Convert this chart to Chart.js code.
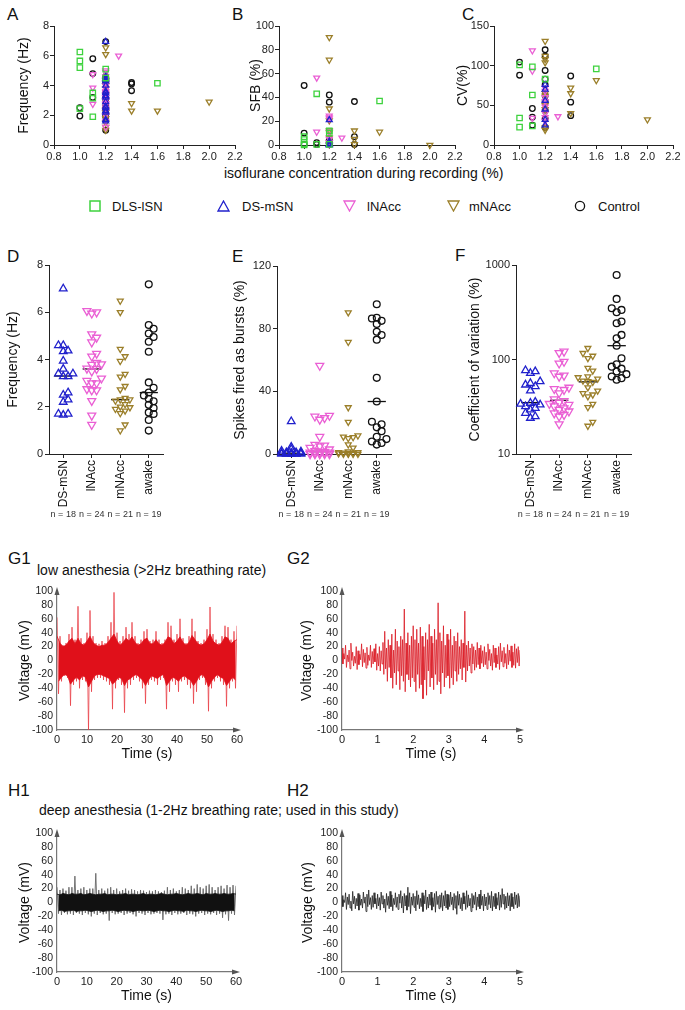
<!DOCTYPE html>
<html>
<head>
<meta charset="utf-8">
<script src="https://cdn.jsdelivr.net/npm/chart.js@4.4.1/dist/chart.umd.min.js"></script>
<style>
  body { margin: 0; background: #fff; font-family: "Liberation Sans", Arial, sans-serif; color: #111; }
  #page { position: relative; width: 685px; height: 1010px; overflow: hidden; }
  .letter { position: absolute; font-size: 17px; line-height: 1; }
  .txt { position: absolute; font-size: 14px; line-height: 1; white-space: nowrap; }
  .leg { position: absolute; font-size: 13px; line-height: 13px; white-space: nowrap; }
  .leg svg { position: absolute; }
  canvas { position: absolute; }
</style>
</head>
<body>
<div id="page">
  <div class="letter" style="left:7px;top:6px">A</div>
  <div class="letter" style="left:232px;top:6px">B</div>
  <div class="letter" style="left:462px;top:6px">C</div>
  <div class="letter" style="left:7px;top:248px">D</div>
  <div class="letter" style="left:232px;top:248px">E</div>
  <div class="letter" style="left:455px;top:247px">F</div>
  <div class="letter" style="left:8px;top:550px">G1</div>
  <div class="letter" style="left:287px;top:550px">G2</div>
  <div class="letter" style="left:8px;top:782px">H1</div>
  <div class="letter" style="left:287px;top:782px">H2</div>

  <div class="txt" style="left:224px;top:166px">isoflurane concentration during recording (%)</div>
  <div class="txt" style="left:37px;top:563px">low anesthesia (&gt;2Hz breathing rate)</div>
  <div class="txt" style="left:39px;top:803px">deep anesthesia (1-2Hz breathing rate; used in this study)</div>

  <div class="leg" style="left:89px;top:200px"><svg width="12" height="12" style="left:0;top:0"><rect x="1" y="1" width="10" height="10" fill="none" stroke="#3ed23e" stroke-width="1.5"/></svg><span style="position:absolute;left:23px;top:0">DLS-lSN</span></div>
  <div class="leg" style="left:217px;top:200px"><svg width="13" height="12" style="left:0;top:0"><polygon points="6.5,1 12,11 1,11" fill="none" stroke="#2020cc" stroke-width="1.3"/></svg><span style="position:absolute;left:25px;top:0">DS-mSN</span></div>
  <div class="leg" style="left:343px;top:200px"><svg width="13" height="12" style="left:0;top:0"><polygon points="1,1 12,1 6.5,11" fill="none" stroke="#ea5fd4" stroke-width="1.3"/></svg><span style="position:absolute;left:24px;top:0">lNAcc</span></div>
  <div class="leg" style="left:447px;top:200px"><svg width="13" height="12" style="left:0;top:0"><polygon points="1,1 12,1 6.5,11" fill="none" stroke="#9b7f2a" stroke-width="1.3"/></svg><span style="position:absolute;left:22px;top:0">mNAcc</span></div>
  <div class="leg" style="left:574px;top:200px"><svg width="12" height="12" style="left:0;top:0"><circle cx="6" cy="6" r="4.6" fill="none" stroke="#111" stroke-width="1.3"/></svg><span style="position:absolute;left:24px;top:0">Control</span></div>

  <canvas id="cA" width="245" height="172" style="left:0;top:0"></canvas>
  <canvas id="cB" width="230" height="172" style="left:236px;top:0"></canvas>
  <canvas id="cC" width="230" height="172" style="left:455px;top:0"></canvas>
  <canvas id="cD" width="178" height="285" style="left:0;top:240px"></canvas>
  <canvas id="cE" width="170" height="285" style="left:228px;top:240px"></canvas>
  <canvas id="cF" width="230" height="285" style="left:455px;top:240px"></canvas>
  <canvas id="cG1" width="250" height="190" style="left:0;top:575px"></canvas>
  <canvas id="cG2" width="240" height="190" style="left:290px;top:575px"></canvas>
  <canvas id="cH1" width="250" height="190" style="left:0;top:817px"></canvas>
  <canvas id="cH2" width="240" height="190" style="left:290px;top:817px"></canvas>
</div>

<script>
// ---- panels A-C: [isoflurane %, value] per neuron ----
const isoTicks = [0.8, 1.0, 1.2, 1.4, 1.6, 1.8, 2.0, 2.2];
const groupNames = ["DLS-lSN", "DS-mSN", "lNAcc", "mNAcc", "Control"];

const aDLS = [[1.0, 6.25], [1.0, 5.65], [1.0, 5.2], [1.0, 2.45], [1.1, 3.5], [1.1, 3.15], [1.1, 1.9], [1.2, 5.1], [1.2, 4.5], [1.6, 4.15]];
const aDS = [[1.2, 6.95], [1.2, 4.6], [1.2, 4.5], [1.2, 4.4], [1.2, 4.3], [1.2, 4.0], [1.2, 3.6], [1.2, 3.5], [1.2, 3.3], [1.2, 3.3], [1.2, 3.2], [1.2, 2.9], [1.2, 2.6], [1.2, 2.5], [1.2, 2.3], [1.2, 2.2], [1.2, 1.7], [1.2, 1.6]];
const aLNAcc = [[1.1, 4.75], [1.1, 3.85], [1.1, 2.75], [1.3, 6.0], [1.2, 5.0], [1.2, 4.9], [1.2, 4.6], [1.2, 4.3], [1.2, 4.2], [1.2, 4.0], [1.2, 3.8], [1.2, 3.6], [1.2, 3.5], [1.2, 3.4], [1.2, 3.2], [1.2, 3.0], [1.2, 2.8], [1.2, 2.7], [1.2, 2.5], [1.2, 2.3], [1.2, 2.0], [1.2, 1.6], [1.2, 1.2]];
const aMNAcc = [[1.2, 6.55], [1.2, 6.1], [1.2, 4.4], [1.2, 4.0], [1.2, 3.8], [1.2, 3.4], [1.2, 3.0], [1.2, 2.4], [1.2, 2.2], [1.2, 2.0], [1.2, 1.8], [1.2, 1.5], [1.2, 1.2], [1.2, 1.0], [1.4, 2.8], [1.4, 2.3], [1.6, 2.3], [2.0, 2.9]];
const aCtrl = [[1.0, 2.5], [1.0, 1.95], [1.1, 5.8], [1.1, 4.8], [1.1, 3.2], [1.2, 6.95], [1.2, 4.6], [1.2, 4.4], [1.2, 4.2], [1.2, 3.6], [1.2, 3.3], [1.2, 2.9], [1.2, 2.6], [1.2, 2.4], [1.2, 2.1], [1.2, 1.9], [1.2, 1.0], [1.4, 4.2], [1.4, 4.1], [1.4, 3.65]];

const bDLS = [[1.0, 7], [1.0, 4.5], [1.0, 1], [1.0, 0], [1.1, 43], [1.1, 0.5], [1.2, 12], [1.2, 10], [1.2, 0.5], [1.6, 37]];
const bDS = [[1.2, 21], [1.2, 3], [1.2, 1], [1.2, 0.5], [1.2, 0], [1.2, 0]];
const bLNAcc = [[1.1, 56.5], [1.1, 11], [1.2, 24.5], [1.2, 23], [1.2, 22], [1.2, 11], [1.2, 5], [1.2, 2], [1.2, 0.5], [1.3, 6]];
const bMNAcc = [[1.2, 90.5], [1.2, 71.5], [1.2, 30.5], [1.2, 20.5], [1.2, 12], [1.2, 10.5], [1.2, 6], [1.2, 2], [1.2, 0.5], [1.4, 12], [1.4, 5], [1.4, 0.5], [1.6, 11], [2.0, 0]];
const bCtrl = [[1.0, 50], [1.0, 10], [1.0, 0.5], [1.1, 2], [1.1, 0.5], [1.2, 42], [1.2, 36], [1.2, 4.5], [1.2, 2.5], [1.2, 0.8], [1.4, 36.5], [1.4, 7], [1.4, 0.5]];

const cDLS = [[1.0, 101], [1.0, 34], [1.0, 22.5], [1.1, 98.5], [1.1, 63], [1.1, 24], [1.2, 83], [1.6, 96]];
const cDS = [[1.2, 76], [1.2, 70], [1.2, 56], [1.2, 45], [1.2, 32], [1.2, 25]];
const cLNAcc = [[1.1, 119], [1.1, 93.5], [1.1, 34], [1.2, 72], [1.2, 68], [1.2, 60], [1.2, 55], [1.2, 48], [1.2, 40], [1.2, 35], [1.2, 30], [1.3, 36]];
const cMNAcc = [[1.2, 131], [1.2, 112], [1.2, 108], [1.2, 104], [1.2, 65], [1.2, 62], [1.2, 50], [1.2, 45], [1.2, 40], [1.2, 22], [1.2, 19], [1.4, 72], [1.4, 65], [1.4, 40], [1.6, 81.5], [2.0, 32]];
const cCtrl = [[1.0, 104.5], [1.0, 88], [1.1, 46], [1.1, 35], [1.1, 25], [1.2, 120], [1.2, 112], [1.2, 94], [1.2, 83], [1.2, 76], [1.2, 62], [1.2, 55], [1.2, 44], [1.2, 33], [1.2, 22], [1.4, 87], [1.4, 54], [1.4, 37]];

// ---- panels D-F: one value per neuron ----
const stripCats = ["DS-mSN", "lNAcc", "mNAcc", "awake"];
const stripN = ["n = 18", "n = 24", "n = 21", "n = 19"];

const dFreqDS = [7.0, 4.6, 4.6, 4.37, 4.34, 3.94, 3.6, 3.4, 3.4, 3.28, 3.28, 2.6, 2.5, 2.3, 2.2, 1.7, 1.7, 1.65];
const dFreqLN = [6.06, 6.0, 5.95, 5.07, 4.93, 4.73, 4.25, 4.13, 3.86, 3.8, 3.78, 3.62, 3.6, 3.5, 3.2, 3.1, 3.0, 3.0, 2.75, 2.7, 2.7, 2.25, 1.63, 1.24];
const dFreqMN = [6.48, 6.0, 4.44, 4.13, 3.93, 3.38, 3.27, 2.87, 2.73, 2.37, 2.3, 2.3, 2.25, 2.1, 2.0, 1.97, 1.9, 1.83, 1.72, 1.24, 0.99];
const dFreqAW = [7.18, 5.46, 5.3, 5.1, 4.95, 4.75, 4.33, 3.03, 2.8, 2.6, 2.48, 2.34, 2.23, 2.08, 1.95, 1.76, 1.69, 1.44, 0.99];
const dMedian = [3.3, 3.6, 2.3, 2.6];

const eBurstDS = [20.8, 4.5, 3, 2, 1.5, 1, 1, 0.5, 0.5, 0.5, 0.3, 0.2, 0, 0, 0, 0, 0, 0];
const eBurstLN = [56.4, 24.5, 24, 23, 22, 11, 6, 5.5, 5, 4, 3, 2, 1.5, 1.5, 1, 1, 0.5, 0.5, 0.3, 0, 0, 0, 0, 0];
const eBurstMN = [90.3, 71.4, 29.7, 20.4, 11.7, 11, 10.6, 10, 6, 4, 1.5, 1, 1, 0.8, 0.5, 0.5, 0.3, 0, 0, 0, 0];
const eBurstAW = [95.6, 87, 86.5, 85, 83, 78, 76, 73, 48.6, 33.5, 20.6, 19, 17, 14.6, 11, 9.5, 8, 7, 6];
const eMedian = [0.5, 1.5, 1, 33.5];

const fCvDS = [76.6, 74.7, 71.7, 58.5, 56, 54, 52, 46.7, 35.5, 34.6, 33.8, 33.2, 31.9, 30.6, 29.4, 27.1, 25, 24];
const fCvLN = [121.5, 117.6, 95, 91, 71.7, 67.7, 66, 50.5, 48.9, 47.8, 44, 38, 36.5, 35, 34, 33.2, 32, 30.5, 29.4, 28.3, 27, 26, 25, 20.7];
const fCvMN = [131.7, 116.6, 109, 103, 81, 76, 66, 64.6, 62.5, 59.5, 58.6, 57.7, 50.5, 46.7, 43.8, 42.4, 40.6, 33.8, 31.2, 21.8, 19.8];
const fCvAW = [784, 438, 349, 335, 316, 252, 242, 182, 168, 140, 103, 89, 84, 80, 74.7, 70, 66, 63.5, 61];
const fMedian = [35, 37, 58, 140];

// ---- voltage traces (mV) ----
// G1 / H1: extreme peak and trough in each second, plus the dense core band
const g1Upper = [62, 35, 22, 25, 38, 48, 30, 78, 32, 25, 40, 72, 35, 25, 24, 28, 25, 35, 55, 98, 40, 28, 35, 48, 38, 55, 35, 25, 30, 42, 45, 28, 30, 42, 30, 25, 30, 55, 50, 30, 38, 60, 32, 25, 35, 60, 42, 28, 25, 30, 45, 77, 38, 30, 25, 35, 50, 48, 30, 42, 50];
const g1Lower = [-48, -30, -22, -25, -65, -35, -30, -40, -28, -30, -100, -45, -28, -25, -25, -28, -30, -35, -70, -40, -28, -35, -75, -40, -35, -28, -25, -30, -40, -62, -35, -28, -30, -35, -28, -25, -70, -45, -30, -35, -45, -30, -28, -35, -40, -62, -45, -28, -25, -35, -73, -40, -30, -25, -30, -35, -66, -40, -30, -40];
const g1CoreUp = [35, 25, 20, 22, 28, 32, 24, 32, 24, 22, 28, 35, 26, 22, 20, 22, 22, 26, 32, 38, 28, 22, 26, 32, 28, 34, 26, 22, 24, 30, 32, 24, 24, 30, 24, 22, 26, 34, 32, 24, 28, 34, 26, 22, 26, 36, 30, 24, 22, 24, 30, 38, 28, 24, 22, 26, 34, 32, 24, 28, 30];
const g1CoreLo = [-30, -24, -20, -22, -34, -28, -24, -28, -22, -24, -38, -30, -22, -20, -20, -22, -24, -26, -34, -30, -24, -26, -36, -28, -26, -22, -20, -24, -28, -36, -28, -22, -24, -26, -22, -20, -36, -30, -24, -26, -30, -24, -22, -26, -28, -36, -30, -22, -20, -26, -38, -30, -24, -20, -24, -26, -36, -30, -24, -28];
const h1Upper = [22, 18, 20, 17, 22, 22, 38, 18, 20, 22, 18, 20, 20, 42, 18, 20, 17, 20, 22, 18, 20, 16, 18, 20, 17, 19, 18, 16, 18, 17, 15, 17, 16, 18, 16, 15, 17, 22, 18, 20, 16, 18, 22, 20, 18, 24, 20, 26, 22, 20, 24, 26, 22, 18, 22, 24, 20, 25, 22, 25, 24];
const h1Lower = [-16, -18, -15, -17, -16, -18, -15, -16, -18, -15, -17, -20, -16, -18, -15, -17, -16, -26, -15, -17, -16, -15, -18, -16, -15, -17, -20, -15, -16, -18, -15, -17, -16, -15, -16, -25, -17, -16, -18, -15, -17, -16, -15, -18, -16, -17, -20, -16, -15, -18, -16, -17, -15, -18, -16, -22, -17, -26, -16, -18];
const h1CoreUp = [12, 11, 13, 12, 11, 13, 12, 12, 13, 11, 12, 13, 12, 11, 12, 12, 13, 11, 12, 12, 11, 12, 12, 13, 11, 12, 12, 11, 12, 13, 11, 12, 12, 11, 12, 13, 12, 11, 12, 12, 13, 12, 11, 12, 13, 12, 12, 13, 12, 11, 13, 12, 12, 13, 12, 12, 13, 12, 12, 13, 12];
const h1CoreLo = [-12, -11, -13, -12, -12, -11, -13, -12, -12, -11, -12, -13, -12, -11, -12, -13, -12, -12, -11, -12, -13, -12, -11, -12, -12, -13, -12, -11, -12, -12, -11, -12, -13, -12, -11, -12, -12, -13, -12, -11, -12, -12, -13, -11, -12, -12, -13, -12, -11, -12, -12, -13, -12, -11, -12, -13, -12, -12, -11, -12];
// G2 / H2: one peak and one trough every 50 ms
const g2Upper = [
  18, 10, 22, 8, 15, 25, 12, 6, 20, 14, 9, 24, 16, 11, 19, 8, 22, 13, 17, 24,
  10, 20, 14, 26, 42, 18, 30, 22, 38, 15, 45, 28, 20, 35, 30, 74, 25, 40, 22, 35,
  50, 30, 45, 25, 48, 35, 20, 40, 30, 52, 35, 25, 45, 30, 83, 40, 28, 50, 22, 38,
  30, 45, 22, 35, 28, 40, 20, 30, 25, 71, 22, 28, 18, 24, 20, 15, 26, 18, 22, 14,
  20, 12, 24, 16, 10, 22, 18, 8, 20, 25, 14, 19, 10, 23, 15, 21, 12, 24, 17, 20, 15];
const g2Lower = [
  -5, 2, -10, -2, -12, 0, -8, -4, -13, -6, 1, -9, -3, -11, -7, 0, -10, -5, -2, -14,
  -8, -15, -5, -20, -12, -30, -10, -25, -40, -18, -35, -15, -42, -22, -30, -45, -20, -28, -38, -25,
  -30, -45, -20, -40, -35, -55, -28, -50, -15, -38, -25, -42, -20, -35, -30, -48, -18, -38, -25, -22,
  -40, -25, -35, -15, -30, -20, -12, -28, -10, -31, -15, -8, -18, -5, -14, -10, -6, -12, -4, -9,
  -6, -12, 0, -8, -14, -3, -10, -5, -13, -2, -9, -4, -12, -6, -1, -10, -7, -11, -3, -8];
const h2Upper = [
  10, 4, 14, 8, 12, 2, 16, 9, 6, 13, 11, 5, 15, 8, 12, 18, 7, 10, 14, 6,
  12, 7, 15, 10, 5, 13, 9, 16, 11, 6, 14, 8, 12, 17, 9, 13, 10, 22, 14, 8,
  13, 9, 17, 11, 6, 14, 10, 18, 8, 12, 15, 7, 13, 16, 9, 11, 14, 10, 17, 12,
  11, 15, 8, 13, 10, 16, 12, 7, 14, 9, 17, 11, 6, 13, 10, 15, 8, 12, 18, 9,
  12, 8, 14, 10, 16, 9, 13, 7, 15, 11, 20, 12, 9, 14, 10, 13, 8, 15, 11, 13, 10];
const h2Lower = [
  -6, 0, -10, -3, -8, -12, -2, -9, -5, -11, -4, -8, -1, -13, -6, -3, -10, -7, -2, -9,
  -5, -11, -2, -8, -14, -4, -9, -6, -12, -3, -7, -10, -1, -8, -15, -5, -11, -6, -16, -4,
  -7, -12, -3, -9, -6, -13, -2, -10, -8, -4, -11, -6, -14, -3, -9, -7, -12, -5, -8, -10,
  -6, -3, -11, -8, -17, -4, -9, -12, -2, -10, -7, -5, -13, -8, -3, -11, -6, -9, -4, -12,
  -5, -10, -3, -8, -12, -6, -9, -4, -11, -7, -2, -10, -8, -5, -12, -6, -9, -3, -8, -6];

// ---- styling ----
const FONT = '"Liberation Sans", Arial, sans-serif';
Chart.defaults.font.family = FONT;
Chart.defaults.color = "#1a1a1a";

const groupColors = ["#3ed23e", "#2020cc", "#ea5fd4", "#9b7f2a", "#111111"];
const groupShapes = [
  { shape: "rect", rot: 0, r: 3.8 },
  { shape: "triangle", rot: 0, r: 3.4 },
  { shape: "triangle", rot: 180, r: 3.4 },
  { shape: "triangle", rot: 180, r: 3.4 },
  { shape: "circle", rot: 0, r: 2.8 },
];
const stripColors = ["#2020cc", "#ea5fd4", "#9b7f2a", "#111111"];
const stripShapes = [
  { shape: "triangle", rot: 0, r: 4.4 },
  { shape: "triangle", rot: 180, r: 4.6 },
  { shape: "triangle", rot: 180, r: 3.4 },
  { shape: "circle", rot: 0, r: 3.4 },
];

const tickGrid = { drawOnChartArea: false, drawTicks: true, tickLength: 4, color: "#222", lineWidth: 1 };
const axisBorder = { color: "#222", width: 1 };

function base(padT, padR) {
  return {
    responsive: false,
    animation: false,
    devicePixelRatio: 1,
    layout: { autoPadding: false, padding: { top: padT, right: padR, bottom: 0, left: 0 } },
    plugins: { legend: { display: false }, tooltip: { enabled: false } },
  };
}

function isoPanel(id, groups, yTicks, yTitle, titlePad, yW, padR) {
  const opts = base(26, padR);
  opts.scales = {
    x: {
      type: "linear", min: 0.8, max: 2.2,
      afterBuildTicks: (s) => { s.ticks = isoTicks.map((v) => ({ value: v })); },
      ticks: { callback: (v) => v.toFixed(1), font: { size: 11 }, padding: 1, color: "#222", maxRotation: 0, autoSkip: false },
      grid: tickGrid, border: axisBorder,
      afterFit: (s) => { s.height = 27; },
    },
    y: {
      type: "linear", min: 0, max: yTicks[yTicks.length - 1],
      afterBuildTicks: (s) => { s.ticks = yTicks.map((v) => ({ value: v })); },
      ticks: { font: { size: 11 }, padding: 1, color: "#222", autoSkip: false },
      grid: tickGrid, border: axisBorder,
      title: { display: true, text: yTitle, font: { size: 14 }, color: "#111", padding: { top: titlePad, bottom: 0 } },
      afterFit: (s) => { s.width = yW; },
    },
  };
  new Chart(document.getElementById(id), {
    type: "scatter",
    data: {
      datasets: groups.map((g, i) => ({
        label: groupNames[i],
        data: g.map((p) => ({ x: p[0], y: p[1] })),
        pointStyle: groupShapes[i].shape,
        pointRotation: groupShapes[i].rot,
        pointRadius: groupShapes[i].r,
        pointBorderColor: groupColors[i],
        pointBackgroundColor: "rgba(0,0,0,0)",
        pointBorderWidth: 1.3,
        clip: false,
      })),
    },
    options: opts,
  });
}

// spread overlapping points sideways (beeswarm), at most two slots each side
function swarm(vals, toPx, step, minDy) {
  const order = vals.map((v, i) => i).sort((a, b) => vals[a] - vals[b]);
  const placed = [];
  const off = new Array(vals.length).fill(0);
  const slots = [0, step, -step, 2 * step, -2 * step];
  for (const i of order) {
    const y = toPx(vals[i]);
    let best = 0, bestHits = Infinity;
    for (const o of slots) {
      const hits = placed.filter((p) => Math.abs(p.o - o) < step * 0.5 && Math.abs(p.y - y) < minDy).length;
      if (hits < bestHits) { best = o; bestHits = hits; }
      if (hits === 0) break;
    }
    off[i] = best;
    placed.push({ o: best, y });
  }
  return off;
}

const nLabelPlugin = {
  id: "nlabels",
  afterDraw(chart) {
    const { ctx, chartArea } = chart;
    const xs = chart.scales.x;
    ctx.save();
    ctx.font = "9px " + FONT;
    ctx.fillStyle = "#333";
    ctx.textAlign = "center";
    ctx.textBaseline = "middle";
    stripN.forEach((t, i) => ctx.fillText(t, xs.getPixelForValue(i + 1), chartArea.bottom + 61));
    ctx.restore();
  },
};

function stripPanel(id, groups, medians, yScale, toPx, yTitle, titlePad, yW, padT, padR) {
  const datasets = [];
  groups.forEach((vals, i) => {
    const off = swarm(vals, toPx, 0.17, 6);
    datasets.push({
      type: "scatter",
      data: vals.map((v, k) => ({ x: i + 1 + off[k], y: v })),
      pointStyle: stripShapes[i].shape,
      pointRotation: stripShapes[i].rot,
      pointRadius: stripShapes[i].r,
      pointBorderColor: stripColors[i],
      pointBackgroundColor: "rgba(0,0,0,0)",
      pointBorderWidth: 1.3,
      clip: false,
    });
  });
  medians.forEach((m, i) => {
    datasets.push({
      type: "line",
      data: [{ x: i + 0.68, y: m }, { x: i + 1.32, y: m }],
      borderColor: "#111", borderWidth: 1.3, pointRadius: 0, clip: false,
    });
  });
  const opts = base(padT, padR);
  opts.scales = {
    x: {
      type: "linear", min: 0.5, max: 4.5,
      afterBuildTicks: (s) => { s.ticks = [1, 2, 3, 4].map((v) => ({ value: v })); },
      ticks: { callback: (v) => stripCats[v - 1], font: { size: 12 }, color: "#111", minRotation: 90, maxRotation: 90, autoSkip: false, padding: 2 },
      grid: tickGrid, border: axisBorder,
      afterFit: (s) => { s.height = 71; },
    },
    y: Object.assign({
      ticks: { font: { size: 11 }, padding: 2, color: "#222", autoSkip: false, callback: (v) => String(v) },
      grid: tickGrid, border: axisBorder,
      title: { display: true, text: yTitle, font: { size: 14 }, color: "#111", padding: { top: titlePad, bottom: 0 } },
      afterFit: (s) => { s.width = yW; },
    }, yScale),
  };
  new Chart(document.getElementById(id), {
    type: "scatter",
    data: { datasets },
    options: opts,
    plugins: [nLabelPlugin],
  });
}

const arrowPlugin = {
  id: "arrows",
  afterDraw(chart) {
    const { ctx, chartArea } = chart;
    const { left, top, right, bottom } = chartArea;
    ctx.save();
    ctx.fillStyle = "#555";
    ctx.beginPath();
    ctx.moveTo(left, top - 4);
    ctx.lineTo(left - 2.5, top + 4);
    ctx.lineTo(left + 2.5, top + 4);
    ctx.closePath();
    ctx.fill();
    ctx.beginPath();
    ctx.moveTo(right + 4, bottom);
    ctx.lineTo(right - 4, bottom - 2.5);
    ctx.lineTo(right - 4, bottom + 2.5);
    ctx.closePath();
    ctx.fill();
    ctx.restore();
  },
};

// zig-zag between successive peaks and troughs; optional solid core band on top
function tracePanel(id, upper, lower, dt, xMax, xStep, color, lw, core, titlePad, yW, padR) {
  const zig = [];
  upper.forEach((u, i) => {
    zig.push({ x: i * dt, y: u });
    if (i < lower.length) zig.push({ x: i * dt + dt / 2, y: lower[i] });
  });
  const datasets = [];
  if (core) {
    datasets.push({ data: core.up.map((u, i) => ({ x: i * dt, y: u })), borderColor: core.color, borderWidth: 0.8, pointRadius: 0, tension: 0, fill: "+1", backgroundColor: core.color });
    datasets.push({ data: core.lo.map((l, i) => ({ x: i * dt + dt / 2, y: l })), borderColor: core.color, borderWidth: 0.8, pointRadius: 0, tension: 0, fill: false });
  }
  datasets.push({ data: zig, borderColor: color, borderWidth: lw, pointRadius: 0, tension: 0, fill: false });
  const noGrid = { drawOnChartArea: false, drawTicks: false };
  const border = { color: "#777", width: 1.2 };
  const opts = base(16, padR);
  opts.scales = {
    x: {
      type: "linear", min: 0, max: xMax,
      ticks: { stepSize: xStep, font: { size: 11 }, color: "#222", padding: 3, maxRotation: 0, autoSkip: false },
      grid: noGrid, border,
      title: { display: true, text: "Time (s)", font: { size: 14 }, color: "#111", padding: { top: 0, bottom: 2.6 } },
      afterFit: (s) => { s.height = 35; },
    },
    y: {
      type: "linear", min: -100, max: 100,
      ticks: { stepSize: 20, font: { size: 10.5 }, color: "#222", padding: 4, autoSkip: false },
      grid: noGrid, border,
      title: { display: true, text: "Voltage (mV)", font: { size: 14 }, color: "#111", padding: { top: titlePad, bottom: 0 } },
      afterFit: (s) => { s.width = yW; },
    },
  };
  new Chart(document.getElementById(id), {
    type: "line",
    data: { datasets },
    options: opts,
    plugins: [arrowPlugin],
  });
}

isoPanel("cA", [aDLS, aDS, aLNAcc, aMNAcc, aCtrl], [0, 2, 4, 6, 8], "Frequency (Hz)", 15.6, 54, 10);
isoPanel("cB", [bDLS, bDS, bLNAcc, bMNAcc, bCtrl], [0, 20, 40, 60, 80, 100], "SFB (%)", 11.6, 43, 11);
isoPanel("cC", [cDLS, cDS, cLNAcc, cMNAcc, cCtrl], [0, 50, 100, 150], "CV(%)", 0, 39, 12);

stripPanel("cD", [dFreqDS, dFreqLN, dFreqMN, dFreqAW], dMedian,
  { type: "linear", min: 0, max: 8, afterBuildTicks: (s) => { s.ticks = [0, 2, 4, 6, 8].map((v) => ({ value: v })); } },
  (v) => v * 189 / 8, "Frequency (Hz)", 4.6, 49, 25, 15);
stripPanel("cE", [eBurstDS, eBurstLN, eBurstMN, eBurstAW], eMedian,
  { type: "linear", min: 0, max: 120, afterBuildTicks: (s) => { s.ticks = [0, 40, 80, 120].map((v) => ({ value: v })); } },
  (v) => v * 188 / 120, "Spikes fired as bursts (%)", 3.6, 49, 26, 7);
stripPanel("cF", [fCvDS, fCvLN, fCvMN, fCvAW], fMedian,
  { type: "logarithmic", min: 10, max: 1000, afterBuildTicks: (s) => { s.ticks = [10, 100, 1000].map((v) => ({ value: v })); } },
  (v) => Math.log10(v) * 94.5, "Coefficient of variation (%)", 11.6, 61, 25, 54);

tracePanel("cG1", g1Upper, g1Lower, 1, 60, 10, "rgba(232,60,68,0.85)", 0.9, { up: g1CoreUp, lo: g1CoreLo, color: "#e0101a" }, 16.6, 57, 13);
tracePanel("cG2", g2Upper, g2Lower, 0.05, 5, 1, "#da1a24", 0.8, null, 8.6, 52, 10);
tracePanel("cH1", h1Upper, h1Lower, 1, 60, 10, "#666666", 0.9, { up: h1CoreUp, lo: h1CoreLo, color: "#111111" }, 16.6, 57, 14);
tracePanel("cH2", h2Upper, h2Lower, 0.05, 5, 1, "#222222", 0.8, null, 9.6, 52, 10);
</script>
</body>
</html>
